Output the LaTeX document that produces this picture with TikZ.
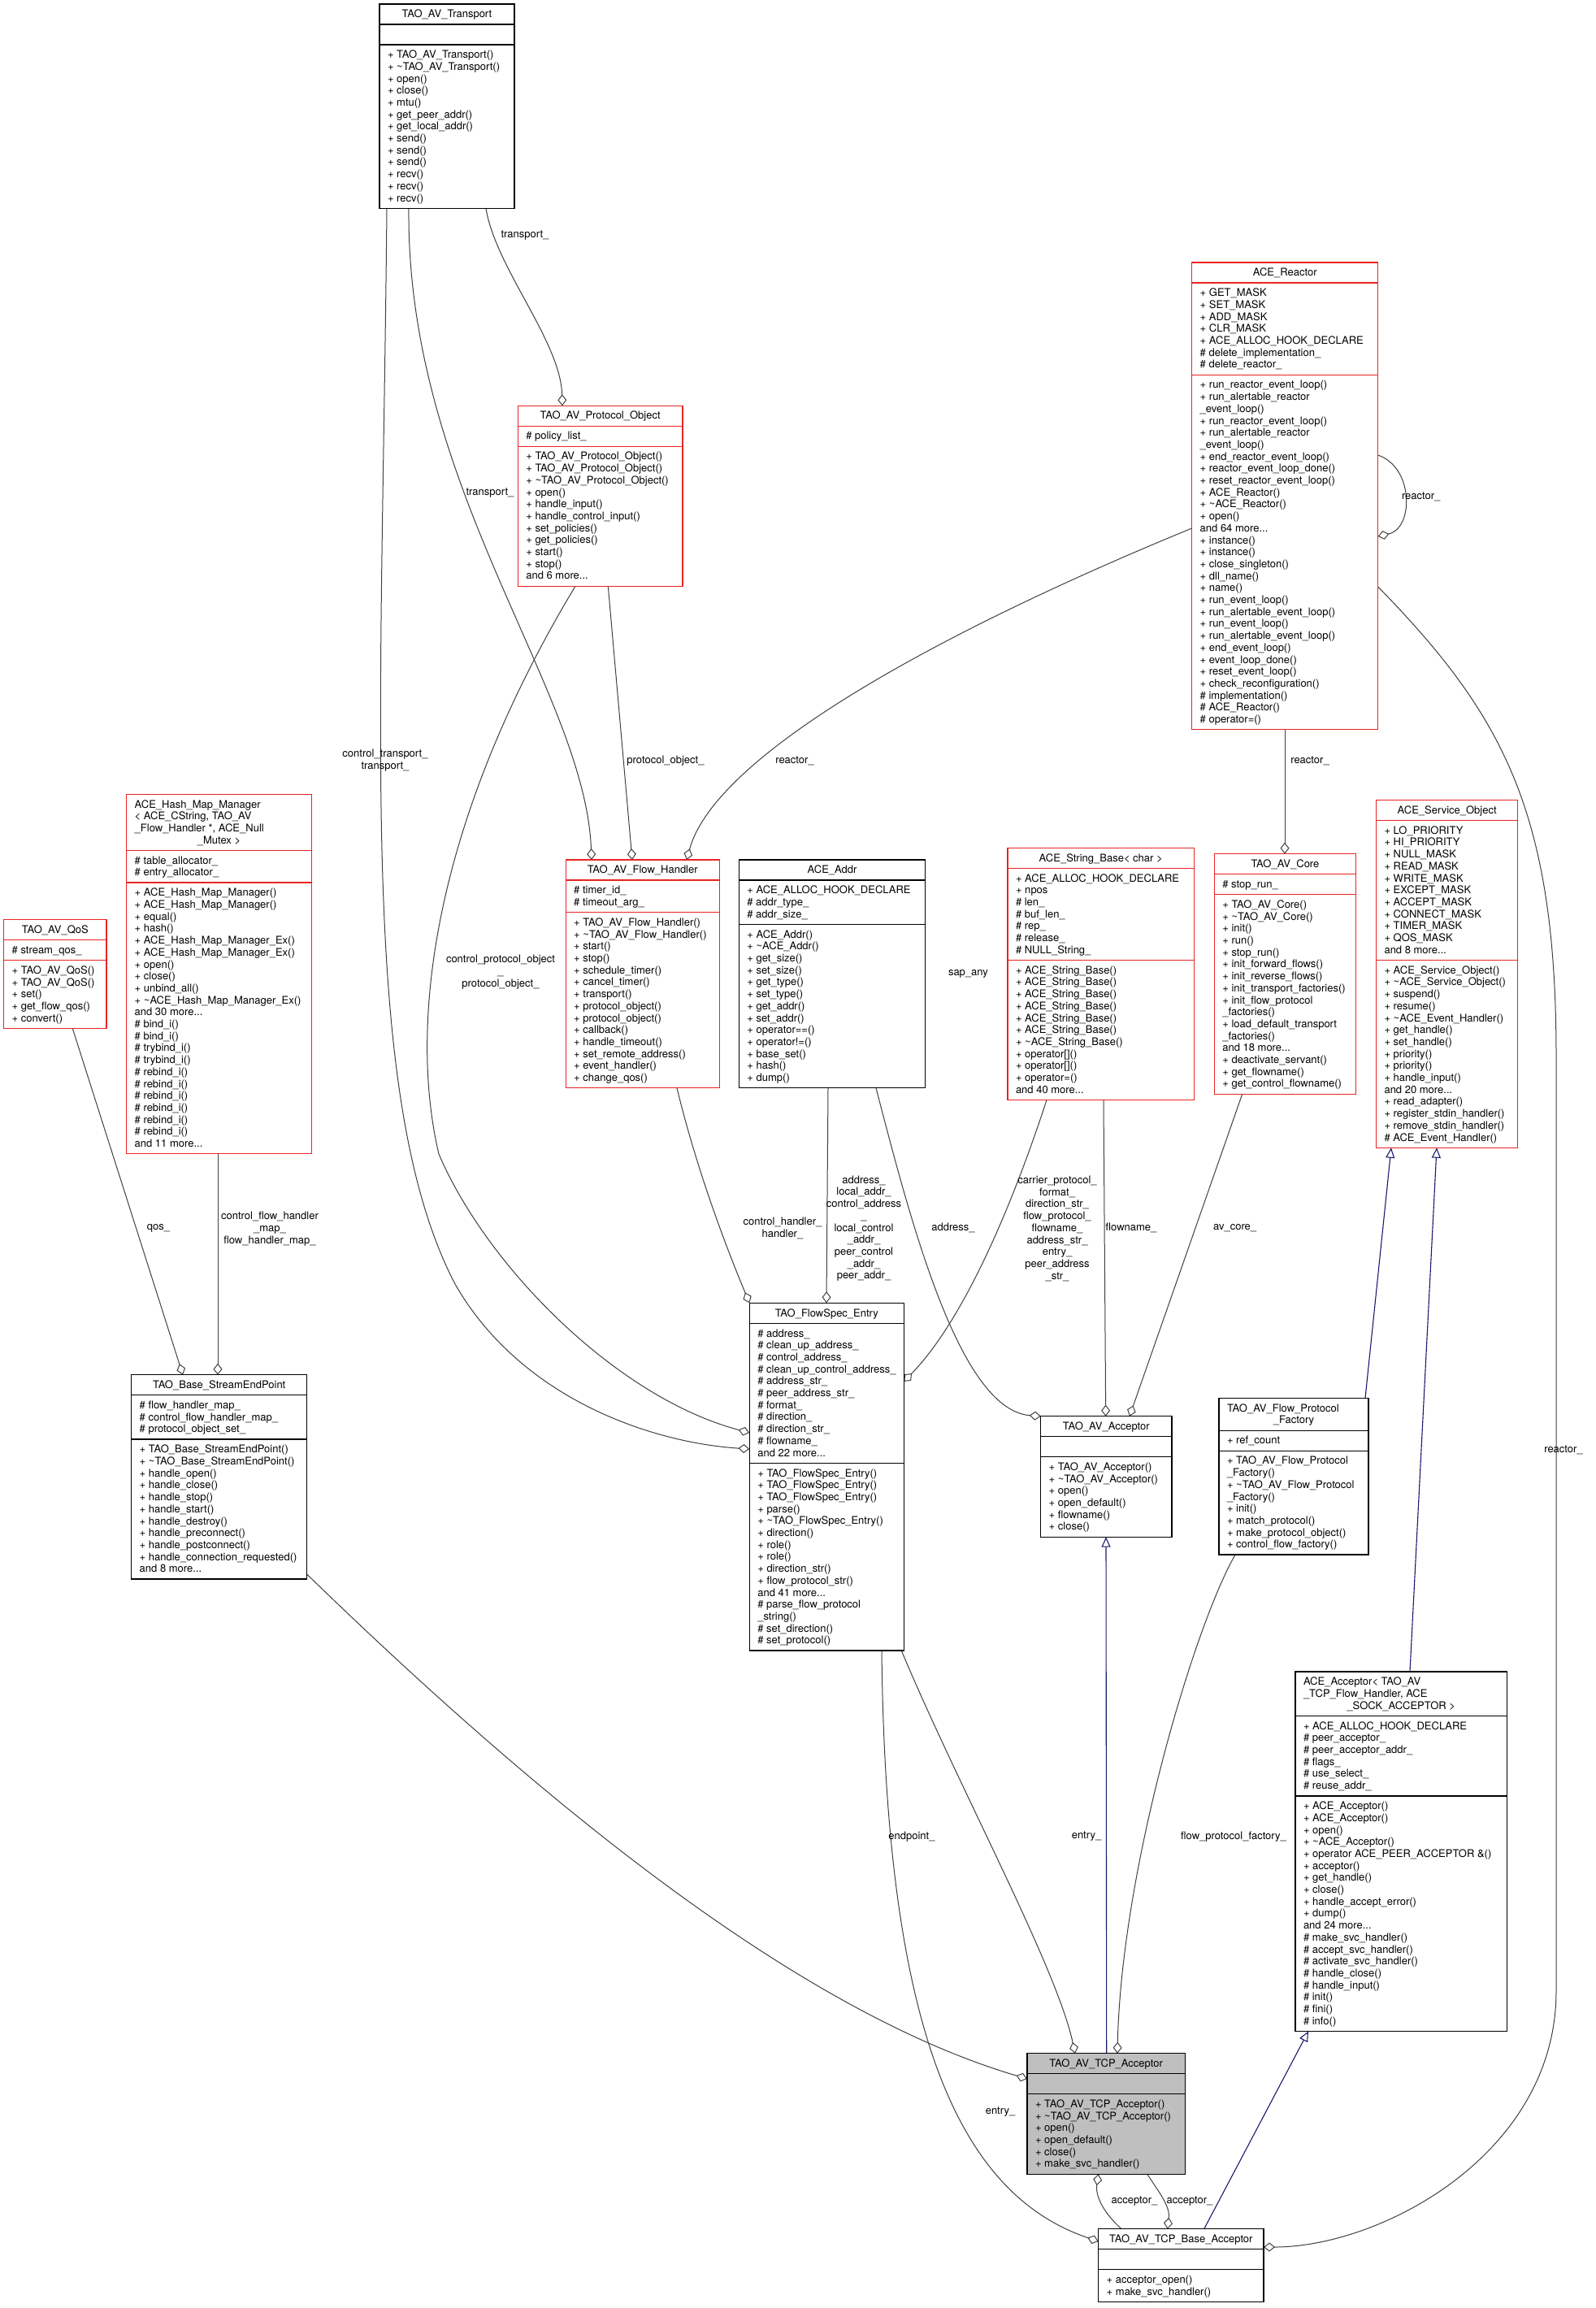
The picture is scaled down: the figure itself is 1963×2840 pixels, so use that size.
\documentclass[tikz,border=0pt]{standalone}
\usepackage{fontspec}
\setmainfont{TeX Gyre Heros}
\usetikzlibrary{arrows.meta}
\pgfdeclarelayer{bg}
\pgfdeclarelayer{paper}
\pgfsetlayers{paper,bg,main}
\definecolor{redb}{RGB}{235,35,35}
\definecolor{edgec}{RGB}{64,64,64}
\definecolor{inh}{RGB}{25,25,112}
\definecolor{focus}{RGB}{191,191,191}
\tikzset{
 cls/.style={line width=1.3pt, inner sep=0pt, outer sep=0pt},
 txt/.style={inner sep=0pt, outer sep=0pt, align=left, font=\fontsize{13}{14.7}\selectfont},
 lbl/.style={inner sep=0pt, outer sep=0pt, align=center, font=\fontsize{13}{14.7}\selectfont},
 assoc/.style={draw=edgec, line width=1pt, -{Diamond[open, length=14pt, width=11pt, line width=1pt]}},
 inhe/.style={draw=inh, line width=1.1pt, -{Triangle[open, length=12.5pt, width=11pt, line width=1.1pt]}},
}
\def\cfill{white}
\newcommand\tild{\textasciitilde}
\newcommand\umlbox[8]{%
 \pgfmathsetmacro\cX{#2}%
 \pgfmathsetmacro\cW{#4}%
 \pgfmathsetmacro\cYT{#3}%
 \pgfmathsetmacro\cYA{#3+25+14.7*(#6-1)}%
 \pgfmathsetmacro\cYM{\cYA+25+14.7*(#7-1)}%
 \pgfmathsetmacro\cH{\cYM+25+14.7*(#8-1)-#3}%
 \node[cls,draw=#5,fill=\cfill,minimum width=#4pt,minimum height=\cH pt,anchor=north west] (#1) at (#2,#3) {};
 \draw[draw=#5,line width=1.3pt] (#2,\cYA) -- ++(#4,0) (#2,\cYM) -- ++(#4,0);
}
\newcommand\umltitle[2]{\node[txt,anchor=north] (#1-t) at ({\cX+\cW/2},{\cYT+6.4}) {\strut #2};}
\newcommand\umltitleL[4]{\node[txt,anchor=north west] (#1-t) at ({\cX+10},{\cYT+6.4}) {\strut #2};
 \node[txt,anchor=north] (#1-t2) at ({\cX+\cW/2},{\cYT+6.4+14.7*#4}) {\strut #3};}
\newcommand\umlattr[2]{\node[txt,anchor=north west] (#1-a) at ({\cX+10},{\cYA+6.4}) {\strut #2};}
\newcommand\umlmeth[2]{\node[txt,anchor=north west] (#1-m) at ({\cX+10},{\cYM+6.4}) {\strut #2};}
\begin{document}
\catcode`\_=12
\begin{tikzpicture}[x=1pt,y=-1pt]
\begin{pgfonlayer}{paper}
\fill[white] (0,0) rectangle (1963,2840);
\end{pgfonlayer}
\useasboundingbox (0,0) rectangle (1963,2840);

% ---------------- classes
\umlbox{tr}{467}{5}{166}{black}{1}{1}{13}
\umltitle{tr}{TAO_AV_Transport}
\umlmeth{tr}{+ TAO_AV_Transport()\\+ \tild TAO_AV_Transport()\\+ open()\\+ close()\\+ mtu()\\+ get_peer_addr()\\+ get_local_addr()\\+ send()\\+ send()\\+ send()\\+ recv()\\+ recv()\\+ recv()}

\umlbox{reactor}{1466.7}{323}{229}{redb}{1}{7}{29}
\umltitle{reactor}{ACE_Reactor}
\umlattr{reactor}{+ GET_MASK\\+ SET_MASK\\+ ADD_MASK\\+ CLR_MASK\\+ ACE_ALLOC_HOOK_DECLARE\\\# delete_implementation_\\\# delete_reactor_}
\umlmeth{reactor}{+ run_reactor_event_loop()\\+ run_alertable_reactor\\_event_loop()\\+ run_reactor_event_loop()\\+ run_alertable_reactor\\_event_loop()\\+ end_reactor_event_loop()\\+ reactor_event_loop_done()\\+ reset_reactor_event_loop()\\+ ACE_Reactor()\\+ \tild ACE_Reactor()\\+ open()\\and 64 more...\\+ instance()\\+ instance()\\+ close_singleton()\\+ dll_name()\\+ name()\\+ run_event_loop()\\+ run_alertable_event_loop()\\+ run_event_loop()\\+ run_alertable_event_loop()\\+ end_event_loop()\\+ event_loop_done()\\+ reset_event_loop()\\+ check_reconfiguration()\\\# implementation()\\\# ACE_Reactor()\\\# operator=()}

\umlbox{po}{637.3}{499.3}{202.7}{redb}{1}{1}{11}
\umltitle{po}{TAO_AV_Protocol_Object}
\umlattr{po}{\# policy_list_}
\umlmeth{po}{+ TAO_AV_Protocol_Object()\\+ TAO_AV_Protocol_Object()\\+ \tild TAO_AV_Protocol_Object()\\+ open()\\+ handle_input()\\+ handle_control_input()\\+ set_policies()\\+ get_policies()\\+ start()\\+ stop()\\and 6 more...}

\umlbox{qos}{4.7}{1131.7}{126.3}{redb}{1}{1}{5}
\umltitle{qos}{TAO_AV_QoS}
\umlattr{qos}{\# stream_qos_}
\umlmeth{qos}{+ TAO_AV_QoS()\\+ TAO_AV_QoS()\\+ set()\\+ get_flow_qos()\\+ convert()}

\umlbox{hash}{155.7}{977.3}{227.6}{redb}{4}{2}{22}
\umltitleL{hash}{ACE_Hash_Map_Manager\\< ACE_CString, TAO_AV\\_Flow_Handler *, ACE_Null}{_Mutex >}{3}
\umlattr{hash}{\# table_allocator_\\\# entry_allocator_}
\umlmeth{hash}{+ ACE_Hash_Map_Manager()\\+ ACE_Hash_Map_Manager()\\+ equal()\\+ hash()\\+ ACE_Hash_Map_Manager_Ex()\\+ ACE_Hash_Map_Manager_Ex()\\+ open()\\+ close()\\+ unbind_all()\\+ \tild ACE_Hash_Map_Manager_Ex()\\and 30 more...\\\# bind_i()\\\# bind_i()\\\# trybind_i()\\\# trybind_i()\\\# rebind_i()\\\# rebind_i()\\\# rebind_i()\\\# rebind_i()\\\# rebind_i()\\\# rebind_i()\\and 11 more...}

\umlbox{fh}{696.2}{1058}{189}{redb}{1}{2}{14}
\umltitle{fh}{TAO_AV_Flow_Handler}
\umlattr{fh}{\# timer_id_\\\# timeout_arg_}
\umlmeth{fh}{+ TAO_AV_Flow_Handler()\\+ \tild TAO_AV_Flow_Handler()\\+ start()\\+ stop()\\+ schedule_timer()\\+ cancel_timer()\\+ transport()\\+ protocol_object()\\+ protocol_object()\\+ callback()\\+ handle_timeout()\\+ set_remote_address()\\+ event_handler()\\+ change_qos()}

\umlbox{addr}{909.4}{1058}{229.3}{black}{1}{3}{13}
\umltitle{addr}{ACE_Addr}
\umlattr{addr}{+ ACE_ALLOC_HOOK_DECLARE\\\# addr_type_\\\# addr_size_}
\umlmeth{addr}{+ ACE_Addr()\\+ \tild ACE_Addr()\\+ get_size()\\+ set_size()\\+ get_type()\\+ set_type()\\+ get_addr()\\+ set_addr()\\+ operator==()\\+ operator!=()\\+ base_set()\\+ hash()\\+ dump()}

\umlbox{sb}{1240}{1043.3}{229.4}{redb}{1}{7}{11}
\umltitle{sb}{ACE_String_Base< char >}
\umlattr{sb}{+ ACE_ALLOC_HOOK_DECLARE\\+ npos\\\# len_\\\# buf_len_\\\# rep_\\\# release_\\\# NULL_String_}
\umlmeth{sb}{+ ACE_String_Base()\\+ ACE_String_Base()\\+ ACE_String_Base()\\+ ACE_String_Base()\\+ ACE_String_Base()\\+ ACE_String_Base()\\+ \tild ACE_String_Base()\\+ operator[]()\\+ operator[]()\\+ operator=()\\and 40 more...}

\umlbox{core}{1494.3}{1050.7}{174.3}{redb}{1}{1}{16}
\umltitle{core}{TAO_AV_Core}
\umlattr{core}{\# stop_run_}
\umlmeth{core}{+ TAO_AV_Core()\\+ \tild TAO_AV_Core()\\+ init()\\+ run()\\+ stop_run()\\+ init_forward_flows()\\+ init_reverse_flows()\\+ init_transport_factories()\\+ init_flow_protocol\\_factories()\\+ load_default_transport\\_factories()\\and 18 more...\\+ deactivate_servant()\\+ get_flowname()\\+ get_control_flowname()}

\umlbox{so}{1693.5}{984.5}{174.3}{redb}{1}{11}{15}
\umltitle{so}{ACE_Service_Object}
\umlattr{so}{+ LO_PRIORITY\\+ HI_PRIORITY\\+ NULL_MASK\\+ READ_MASK\\+ WRITE_MASK\\+ EXCEPT_MASK\\+ ACCEPT_MASK\\+ CONNECT_MASK\\+ TIMER_MASK\\+ QOS_MASK\\and 8 more...}
\umlmeth{so}{+ ACE_Service_Object()\\+ \tild ACE_Service_Object()\\+ suspend()\\+ resume()\\+ \tild ACE_Event_Handler()\\+ get_handle()\\+ set_handle()\\+ priority()\\+ priority()\\+ handle_input()\\and 20 more...\\+ read_adapter()\\+ register_stdin_handler()\\+ remove_stdin_handler()\\\# ACE_Event_Handler()}

\umlbox{sep}{161.7}{1691.7}{216}{black}{1}{3}{11}
\umltitle{sep}{TAO_Base_StreamEndPoint}
\umlattr{sep}{\# flow_handler_map_\\\# control_flow_handler_map_\\\# protocol_object_set_}
\umlmeth{sep}{+ TAO_Base_StreamEndPoint()\\+ \tild TAO_Base_StreamEndPoint()\\+ handle_open()\\+ handle_close()\\+ handle_stop()\\+ handle_start()\\+ handle_destroy()\\+ handle_preconnect()\\+ handle_postconnect()\\+ handle_connection_requested()\\and 8 more...}

\umlbox{fs}{922.3}{1603.3}{190}{black}{1}{11}{15}
\umltitle{fs}{TAO_FlowSpec_Entry}
\umlattr{fs}{\# address_\\\# clean_up_address_\\\# control_address_\\\# clean_up_control_address_\\\# address_str_\\\# peer_address_str_\\\# format_\\\# direction_\\\# direction_str_\\\# flowname_\\and 22 more...}
\umlmeth{fs}{+ TAO_FlowSpec_Entry()\\+ TAO_FlowSpec_Entry()\\+ TAO_FlowSpec_Entry()\\+ parse()\\+ \tild TAO_FlowSpec_Entry()\\+ direction()\\+ role()\\+ role()\\+ direction_str()\\+ flow_protocol_str()\\and 41 more...\\\# parse_flow_protocol\\_string()\\\# set_direction()\\\# set_protocol()}

\umlbox{ava}{1280.7}{1742.7}{161.3}{black}{1}{1}{6}
\umltitle{ava}{TAO_AV_Acceptor}
\umlmeth{ava}{+ TAO_AV_Acceptor()\\+ \tild TAO_AV_Acceptor()\\+ open()\\+ open_default()\\+ flowname()\\+ close()}

\umlbox{fpf}{1500}{1720.5}{184}{black}{2}{1}{8}
\umltitleL{fpf}{TAO_AV_Flow_Protocol}{_Factory}{1}
\umlattr{fpf}{+ ref_count}
\umlmeth{fpf}{+ TAO_AV_Flow_Protocol\\_Factory()\\+ \tild TAO_AV_Flow_Protocol\\_Factory()\\+ init()\\+ match_protocol()\\+ make_protocol_object()\\+ control_flow_factory()}

\umlbox{acc}{1594}{2057}{260.3}{black}{3}{6}{19}
\umltitleL{acc}{ACE_Acceptor< TAO_AV\\_TCP_Flow_Handler, ACE}{_SOCK_ACCEPTOR >}{2}
\umlattr{acc}{+ ACE_ALLOC_HOOK_DECLARE\\\# peer_acceptor_\\\# peer_acceptor_addr_\\\# flags_\\\# use_select_\\\# reuse_addr_}
\umlmeth{acc}{+ ACE_Acceptor()\\+ ACE_Acceptor()\\+ open()\\+ \tild ACE_Acceptor()\\+ operator ACE_PEER_ACCEPTOR \&()\\+ acceptor()\\+ get_handle()\\+ close()\\+ handle_accept_error()\\+ dump()\\and 24 more...\\\# make_svc_handler()\\\# accept_svc_handler()\\\# activate_svc_handler()\\\# handle_close()\\\# handle_input()\\\# init()\\\# fini()\\\# info()}

\def\cfill{focus}
\umlbox{tcp}{1264}{2526.7}{194.3}{black}{1}{1}{6}
\def\cfill{white}
\umltitle{tcp}{TAO_AV_TCP_Acceptor}
\umlmeth{tcp}{+ TAO_AV_TCP_Acceptor()\\+ \tild TAO_AV_TCP_Acceptor()\\+ open()\\+ open_default()\\+ close()\\+ make_svc_handler()}

\umlbox{base}{1351.7}{2742.7}{203.3}{black}{1}{1}{2}
\umltitle{base}{TAO_AV_TCP_Base_Acceptor}
\umlmeth{base}{+ acceptor_open()\\+ make_svc_handler()}

% ---------------- connectors
\begin{pgfonlayer}{bg}
\draw[assoc] ([xshift=131pt]tr.south west) .. controls (610,330) and (690,420) .. ([xshift=54.7pt]po.north west);
\draw[assoc] ([xshift=36pt]tr.south west) .. controls (500,600) and (720,850) .. ([xshift=31.8pt]fh.north west);
\draw[assoc] ([xshift=9pt]tr.south west) .. controls (470,900) and (440,1350) .. (560,1580) .. controls (640,1720) and (800,1775) .. ([yshift=-179.7pt]fs.north west);
\draw[assoc] ([xshift=70.7pt]po.south west) .. controls (540,1000) and (500,1250) .. (540,1420) .. controls (600,1560) and (760,1720) .. ([yshift=-159.7pt]fs.north west);
\draw[assoc] ([xshift=111pt]po.south west) -- ([xshift=81.8pt]fh.north west);
\draw[assoc] ([yshift=-327pt]reactor.north west) .. controls (1150,780) and (880,930) .. ([xshift=148.8pt]fh.north west);
\draw[assoc] ([xshift=114.3pt]reactor.south west) -- ([xshift=86.7pt]core.north west);
\draw[assoc] ([yshift=-237pt]reactor.north east) .. controls (1740,575) and (1740,650) .. ([yshift=-337pt]reactor.north east);
\draw[assoc] ([yshift=-399pt]reactor.north east) .. controls (1850,880) and (1915,1000) .. (1915,1300) -- (1915,2450) .. controls (1915,2650) and (1700,2765) .. ([yshift=-22.3pt]base.north east);
\draw[assoc] ([xshift=109.6pt]addr.south west) -- ([xshift=94.7pt]fs.north west);
\draw[assoc] ([xshift=168.6pt]addr.south west) .. controls (1120,1500) and (1180,1735) .. (ava.north west);
\draw[assoc] ([xshift=136.8pt]fh.south west) .. controls (860,1450) and (900,1550) .. (fs.north west);
\draw[assoc] ([xshift=48pt]sb.south west) .. controls (1250,1470) and (1190,1620) .. ([yshift=-96.7pt]fs.north east);
\draw[assoc] ([xshift=118pt]sb.south west) -- ([xshift=80pt]ava.north west);
\draw[assoc] ([xshift=34.4pt]core.south west) -- ([xshift=109.3pt]ava.north west);
\draw[assoc] ([xshift=84.6pt]qos.south west) -- ([xshift=63.3pt]sep.north west);
\draw[assoc] ([xshift=112.3pt]hash.south west) -- ([xshift=106.3pt]sep.north west);
\draw[assoc] ([yshift=6pt]sep.south east) .. controls (700,2250) and (1000,2480) .. ([yshift=-31.3pt]tcp.north west);
\draw[assoc] ([xshift=-3pt]fs.south east) .. controls (1180,2200) and (1300,2420) .. ([xshift=59pt]tcp.north west);
\draw[assoc] ([xshift=20pt]fpf.south west) .. controls (1470,2000) and (1380,2300) .. ([xshift=111pt]tcp.north west);
\draw[assoc] ([xshift=162.7pt]fs.south west) .. controls (1090,2500) and (1180,2700) .. ([yshift=-15.3pt]base.north west);
\draw[inhe] ([xshift=97.7pt]tcp.north west) -- ([xshift=80.3pt]ava.south west);
\draw[inhe] ([xshift=130pt]base.north west) -- ([xshift=16pt]acc.south west);
\draw[inhe] ([xshift=180pt]fpf.north west) -- ([xshift=18.5pt]so.south west);
\draw[inhe] ([xshift=141pt]acc.north west) -- ([xshift=74.5pt]so.south west);
\draw[assoc] ([xshift=147.7pt]tcp.south west) .. controls (1428,2700) and (1440,2715) .. ([xshift=85pt]base.north west);
\draw[assoc] ([xshift=28.3pt]base.north west) .. controls (1355,2720) and (1348,2700) .. ([xshift=87.7pt]tcp.south west);
\end{pgfonlayer}

% ---------------- labels
\node[lbl] (l1) at (646,290) {transport_};
\node[lbl] (l2) at (603,607) {transport_};
\node[lbl] (l3) at (474,936) {control_transport_\\transport_};
\node[lbl] (l4) at (819,936) {protocol_object_};
\node[lbl] (l5) at (978,936) {reactor_};
\node[lbl] (l6) at (1612,936) {reactor_};
\node[lbl,anchor=west] (l7) at (1725,611) {reactor_};
\node[lbl] (l8) at (616,1196) {control_protocol_object\\_\\protocol_object_};
\node[lbl,anchor=west] (l9) at (1167,1198) {sap_any};
\node[lbl] (l10) at (1924,1784) {reactor_};
\node[lbl] (l11) at (195,1511) {qos_};
\node[lbl] (l12) at (332,1512) {control_flow_handler\\_map_\\flow_handler_map_};
\node[lbl] (l13) at (963,1511.5) {control_handler_\\handler_};
\node[lbl] (l14) at (1063,1511.7) {address_\\local_addr_\\control_address\\_\\local_control\\_addr_\\peer_control\\_addr_\\peer_addr_};
\node[lbl] (l15) at (1173,1511) {address_};
\node[lbl] (l16) at (1301,1511.7) {carrier_protocol_\\format_\\direction_str_\\flow_protocol_\\flowname_\\address_str_\\entry_\\peer_address\\_str_};
\node[lbl] (l17) at (1392,1511) {flowname_};
\node[lbl] (l18) at (1519.6,1511) {av_core_};
\node[lbl] (l19) at (1122,2260) {endpoint_};
\node[lbl] (l20) at (1337,2260) {entry_};
\node[lbl] (l21) at (1518,2260) {flow_protocol_factory_};
\node[lbl] (l22) at (1231,2599) {entry_};
\node[lbl] (l23) at (1396,2709) {acceptor_};
\node[lbl] (l24) at (1464,2709) {acceptor_};
\end{tikzpicture}
\end{document}
